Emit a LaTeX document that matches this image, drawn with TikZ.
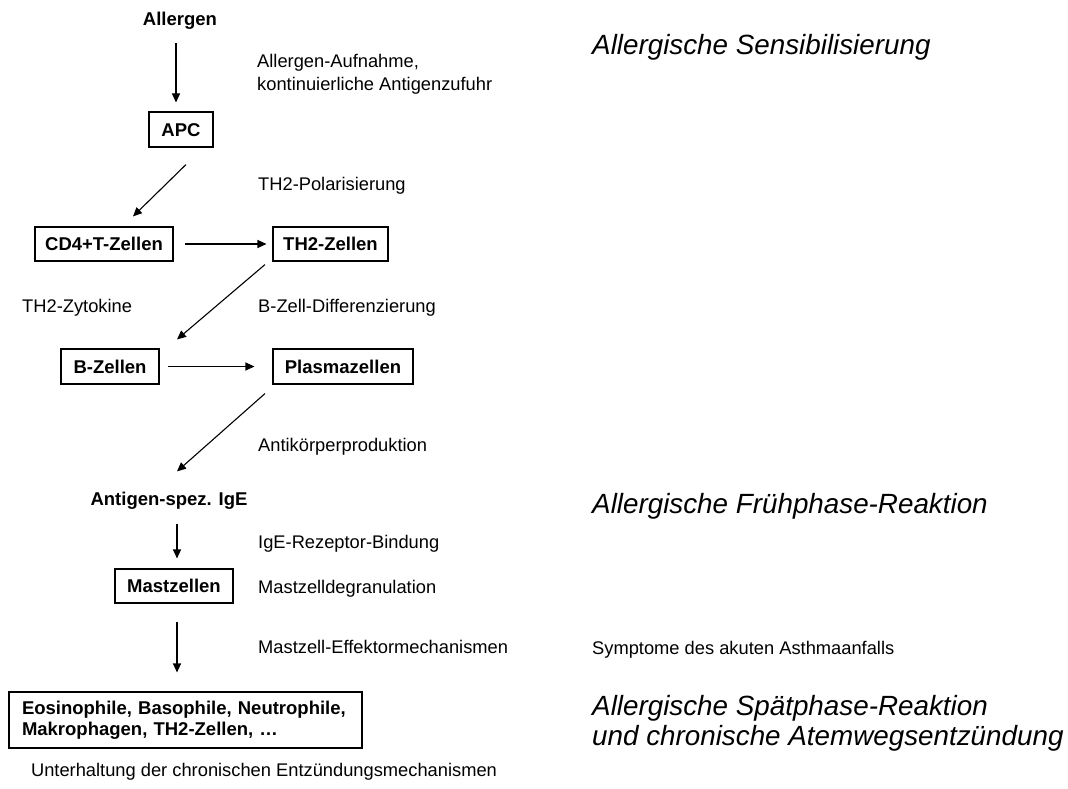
\documentclass[tikz,border=0pt]{standalone}
\usepackage{fontspec}
\setmainfont{Liberation Sans}
\usetikzlibrary{arrows.meta}
\begin{document}
\begin{tikzpicture}[x=1pt,y=-1pt,
  lbl/.style={inner sep=0pt, anchor=base west, font=\fontsize{18.3}{23}\selectfont},
  btxt/.style={inner sep=0pt, anchor=base, font=\fontsize{18.5}{21}\selectfont\bfseries},
  head/.style={inner sep=0pt, anchor=base west, align=left, font=\fontsize{27.8}{30}\selectfont\itshape},
  cellbox/.style={draw, line width=1.1pt, inner sep=0pt, text height=13pt, text depth=0pt,
    font=\fontsize{18.5}{21}\selectfont\bfseries},
  arr/.style={line width=1.1pt, -{Triangle[length=9pt,width=8pt]}}
]
\fill[white] (0,0) rectangle (1068,789);
\useasboundingbox (0,0) rectangle (1068,789);

% main chain
\node[btxt] (allergen) at (180,26) {Allergen};
\node[cellbox, minimum width=64pt, minimum height=35pt] (apc) at (181,129.5) {APC};
\node[cellbox, minimum width=138pt, minimum height=34pt] (cd4) at (104,244) {CD4+T-Zellen};
\node[cellbox, minimum width=115pt, minimum height=34pt] (th2) at (330.5,244) {TH2-Zellen};
\node[cellbox, minimum width=98pt, minimum height=35pt] (bz) at (110,366.5) {B-Zellen};
\node[cellbox, minimum width=140pt, minimum height=35pt] (plasma) at (343,366.5) {Plasmazellen};
\node[btxt] (ige) at (169,505) {Antigen-spez. IgE};
\node[cellbox, minimum width=118pt, minimum height=34pt] (mast) at (174,586) {Mastzellen};
\node[draw, line width=1.1pt, minimum width=353pt, minimum height=56pt, inner xsep=13pt,
  text width=327pt, align=left, font=\fontsize{18.5}{21}\selectfont\bfseries] (eos) at (185.5,720)
  {Eosinophile, Basophile, Neutrophile,\\Makrophagen, TH2-Zellen, \dots};

% connectors
\draw[arr, shorten <=13pt, shorten >=9pt] ([xshift=-4pt]allergen.south) -- ([xshift=-5pt]apc.north);
\draw[arr] ([xshift=5pt,yshift=-17pt]apc.south) -- ([xshift=29pt,yshift=10pt]cd4.north);
\draw[arr, shorten <=11pt, shorten >=6pt] (cd4.east) -- (th2.west);
\draw[arr] ([xshift=-65.5pt,yshift=-3pt]th2.south) -- ([xshift=67pt,yshift=9pt]bz.north);
\draw[arr, shorten <=8pt, shorten >=18pt] (bz.east) -- (plasma.west);
\draw[arr] ([xshift=-78pt,yshift=-9pt]plasma.south) -- ([xshift=8pt,yshift=20pt]ige.north);
\draw[arr, shorten <=15pt, shorten >=10pt] ([xshift=8pt]ige.south) -- ([xshift=3pt]mast.north);
\draw[arr, shorten <=18pt, shorten >=19pt] ([xshift=3pt]mast.south) -- ([xshift=-8.5pt]eos.north);

% labels
\node[lbl] (l1a) at (257,68) {Allergen-Aufnahme,};
\node[lbl] (l1b) at (257,91) {kontinuierliche Antigenzufuhr};
\node[lbl] (l2) at (258,190) {TH2-Polarisierung};
\node[lbl] (l3) at (22,312) {TH2-Zytokine};
\node[lbl] (l4) at (258,312) {B-Zell-Differenzierung};
\node[lbl] (l5) at (258,451) {Antikörperproduktion};
\node[lbl] (l6) at (258,548) {IgE-Rezeptor-Bindung};
\node[lbl] (l7) at (258,593) {Mastzelldegranulation};
\node[lbl] (l8) at (258,653) {Mastzell-Effektormechanismen};
\node[lbl, anchor=base] (l9) at (264,776) {Unterhaltung der chronischen Entzündungsmechanismen};

% right column
\node[head] (h1) at (592,55) {Allergische Sensibilisierung};
\node[head] (h2) at (592,513) {Allergische Frühphase-Reaktion};
\node[lbl] (sym) at (592,654) {Symptome des akuten Asthmaanfalls};
\node[head] (h3a) at (592,715) {Allergische Spätphase-Reaktion};
\node[head] (h3b) at (592,745) {und chronische Atemwegsentzündung};
\end{tikzpicture}
\end{document}
